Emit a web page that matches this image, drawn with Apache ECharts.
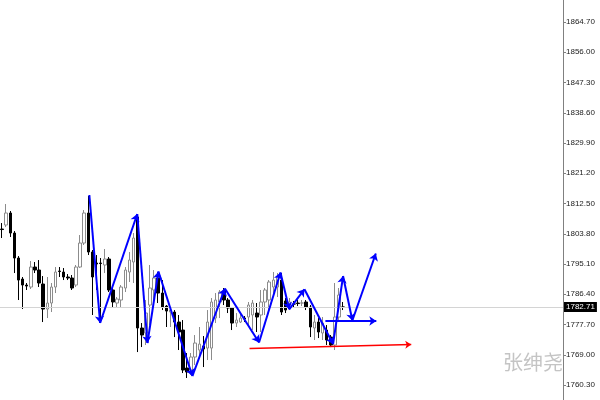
<!DOCTYPE html>
<html><head><meta charset="utf-8">
<script src="https://cdn.jsdelivr.net/npm/echarts@6/dist/echarts.min.js"></script>
<style>html,body{margin:0;padding:0;background:#fff}#c{width:600px;height:400px}</style>
</head><body><div id="c"></div>
<script>
// ---- data ----
const slotCount = 137; // candle slots across the plot (incl. empty right margin)
const opens = [1805.17,1806.32,1809.77,1804.02,1796.83,1790.79,1789.06,1788.49,1794.24,1793.38,
1789.35,1782.16,1783.89,1788.49,1793.09,1792.8,1791.37,1791.08,1789.06,1794.24,
1801.14,1809.77,1798.56,1795.39,1795.39,1794.82,1796.54,1787.63,1783.89,1784.75,
1788.2,1792.8,1795.68,1808.62,1776.7,1775.26,1783.31,1787.63,1791.08,1786.76,
1783.02,1781.3,1781.3,1778.42,1776.12,1765.19,1764.62,1768.36,1770.37,1771.52,
1770.94,1770.94,1779.57,1784.18,1787.34,1784.75,1782.45,1778.13,1778.42,1779.57,
1779.86,1780.44,1781.01,1780.44,1784.18,1784.75,1788.49,1788.49,1790.5,1784.47,
1783.31,1783.6,1783.89,1783.89,1784.18,1782.73,1776.7,1778.42,1775.26,1776.12,
1774.1,1771.81,1779.86,1782.74];
const closes = [1805.02,1809.77,1804.02,1796.83,1790.5,1789.06,1788.77,1794.24,1793.38,1789.64,
1782.16,1783.89,1788.49,1792.8,1792.95,1791.37,1791.08,1788.2,1794.24,1801.14,
1809.77,1798.56,1791.37,1795.1,1795.25,1796.54,1787.63,1784.18,1785.04,1788.49,
1793.38,1796.25,1802.58,1776.7,1774.68,1781.01,1788.2,1791.08,1786.76,1782.73,
1781.58,1781.87,1778.42,1775.55,1764.62,1764.04,1768.36,1772.38,1772.09,1770.65,
1778.42,1784.18,1784.75,1787.05,1784.75,1782.45,1778.13,1779.0,1779.57,1779.29,
1783.31,1783.89,1779.86,1784.18,1787.63,1789.93,1790.5,1791.37,1781.3,1781.87,
1784.18,1783.6,1783.74,1783.89,1782.73,1776.99,1778.42,1775.55,1778.13,1773.25,
1771.81,1779.86,1786.19,1782.71];
const lows = [1802.58,1805.74,1802.87,1792.51,1784.75,1782.16,1787.63,1787.92,1792.51,1788.49,
1778.42,1779.57,1781.3,1786.76,1791.37,1790.5,1790.5,1787.63,1788.49,1793.95,
1800.57,1797.69,1780.44,1787.63,1778.42,1792.51,1787.05,1782.73,1782.73,1782.73,
1787.05,1789.93,1789.64,1769.79,1771.23,1771.81,1777.56,1784.75,1783.89,1781.87,
1776.99,1776.99,1774.1,1770.37,1763.75,1762.32,1763.18,1766.06,1767.78,1765.48,
1767.49,1767.49,1778.13,1779.57,1783.31,1781.01,1776.12,1776.99,1778.13,1778.42,
1776.99,1776.12,1775.55,1775.55,1780.44,1781.01,1786.19,1785.61,1780.44,1781.01,
1781.87,1782.73,1783.02,1783.02,1781.87,1774.1,1773.25,1773.82,1773.25,1771.81,
1771.23,1770.37,1779.0,1781.87];
const highs = [1806.89,1812.36,1810.35,1804.59,1797.4,1791.37,1789.64,1795.97,1795.68,1796.25,
1791.65,1791.37,1789.64,1794.24,1794.24,1793.95,1792.22,1791.94,1794.82,1803.44,
1810.63,1814.66,1799.13,1797.69,1796.83,1799.42,1797.11,1788.2,1785.61,1789.06,
1794.24,1798.55,1804.02,1809.48,1778.13,1784.75,1794.82,1793.38,1792.8,1790.5,
1783.31,1782.45,1781.87,1780.44,1778.99,1769.51,1769.51,1774.68,1776.99,1774.39,
1781.87,1785.32,1786.76,1787.63,1788.2,1785.32,1782.73,1781.01,1781.3,1780.15,
1784.18,1784.75,1783.89,1787.63,1788.2,1790.5,1792.8,1792.51,1792.51,1785.32,
1785.32,1784.47,1784.75,1784.75,1784.75,1783.31,1780.44,1779.57,1779.86,1777.56,
1774.68,1789.64,1788.2,1784.18];
const lastPrice = 1782.71;
const priceTicks = [1760.30,1769.00,1777.70,1786.40,1795.10,1803.80,1812.50,1821.20,1829.90,1838.60,1847.30,1856.00,1864.70];
// zigzag annotation (bar index, price)
const zigX = [21.24,23.86,32.9,35.38,38.05,46.31,54.22,62.53,67.75,69.87,73.58,80.55,82.98,85.24,90.95];
const zigY = [1814.95,1778.14,1809.48,1772.38,1792.95,1762.89,1788.06,1772.53,1792.66,1782.08,1787.83,1772.1,1791.65,1778.85,1798.12];
const hArrowX = [78.68,91.07];
const hArrowY = [1778.71,1778.71];
const redX = [60.22,99.57];
const redY = [1770.80,1771.95];
const watermark = '张绅尧';

// ---- build ----
const categories = Array.from({length: slotCount}, (_, i) => String(i));
const candles = opens.map((o, i) => [o, closes[i], lows[i], highs[i]]);
const zigSegs = [];
for (let i = 0; i < zigX.length - 1; i++) {
  zigSegs.push({coords: [[zigX[i], zigY[i]], [zigX[i+1], zigY[i+1]]]});
}
const chart = echarts.init(document.getElementById('c'), null, {renderer: 'canvas'});
chart.setOption({
  animation: false,
  backgroundColor: '#fff',
  grid: {left: -1, right: 37, top: 0, bottom: 0, containLabel: false},
  xAxis: [
    {type: 'category', data: categories, boundaryGap: true, show: false},
    {type: 'value', min: -0.5, max: slotCount - 0.5, show: false}
  ],
  yAxis: {
    type: 'value', position: 'right', min: 1756.0, max: 1871.03, scale: true,
    axisLine: {show: true, onZero: false, lineStyle: {color: '#808080', width: 1}},
    axisTick: {show: true, length: 3, customValues: priceTicks, lineStyle: {color: '#808080'}},
    axisLabel: {show: true, customValues: priceTicks, formatter: v => v.toFixed(2),
      fontSize: 8, color: '#222', fontFamily: 'Liberation Sans', margin: 3},
    splitLine: {show: false}
  },
  graphic: [{
    type: 'text', left: 503, top: 352, z: 0,
    style: {text: watermark, font: '20px "Noto Sans CJK SC"', fill: '#c4c4c4'}
  }],
  series: [
    {
      type: 'candlestick', data: candles, barWidth: 3, xAxisIndex: 0,
      itemStyle: {color: '#ffffff', color0: '#000000', borderColor: '#8c8c8c', borderColor0: '#000000', borderWidth: 1},
      markLine: {
        silent: true, symbol: ['none', 'none'], animation: false,
        lineStyle: {color: '#d4d4d4', width: 1, type: 'solid'},
        label: {show: true, position: 'end', formatter: lastPrice.toFixed(2), backgroundColor: '#000', color: '#fff',
          fontSize: 8, fontFamily: 'Liberation Sans', padding: [1, 2, 1, 2], distance: 1},
        data: [{yAxis: lastPrice}]
      }
    },
    {
      type: 'lines', coordinateSystem: 'cartesian2d', xAxisIndex: 1, yAxisIndex: 0,
      symbol: ['none', 'arrow'], symbolSize: 7, z: 5,
      lineStyle: {color: '#0000ff', width: 2, opacity: 1},
      data: zigSegs.concat([{coords: [[hArrowX[0], hArrowY[0]], [hArrowX[1], hArrowY[1]]]}])
    },
    {
      type: 'lines', coordinateSystem: 'cartesian2d', xAxisIndex: 1, yAxisIndex: 0,
      symbol: ['none', 'arrow'], symbolSize: 6, z: 5,
      lineStyle: {color: '#ff0000', width: 1.5, opacity: 1},
      data: [{coords: [[redX[0], redY[0]], [redX[1], redY[1]]]}]
    }
  ]
});
</script>
</body></html>
